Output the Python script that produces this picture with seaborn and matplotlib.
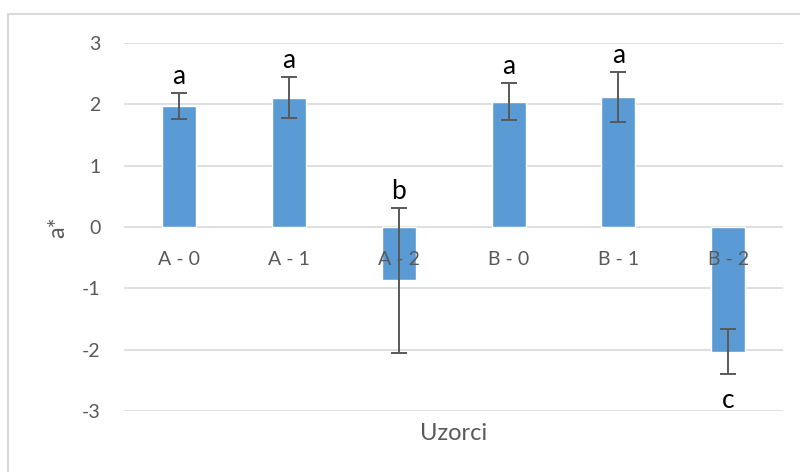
import matplotlib
matplotlib.use("Agg")
import matplotlib.pyplot as plt
import seaborn as sns
import pandas as pd
from matplotlib.patches import Rectangle

categories = ["A - 0", "A - 1", "A - 2", "B - 0", "B - 1", "B - 2"]
values = [1.97, 2.11, -0.87, 2.04, 2.12, -2.03]
errors = [0.21, 0.33, 1.18, 0.30, 0.40, 0.37]
letters = ["a", "a", "b", "a", "a", "c"]
letter_side = ["above", "above", "above", "above", "above", "below"]
yticks = [-3, -2, -1, 0, 1, 2, 3]

df = pd.DataFrame({"Uzorci": categories, "a*": values})

sns.set_theme(style="white")
plt.rcParams["font.family"] = ["Lato", "DejaVu Sans"]

fig = plt.figure(figsize=(8, 4.72), dpi=100)
ax = fig.add_axes([0.155, 0.1292, 0.824, 0.7797])

for t in yticks:
    ax.axhline(t, color="#d9d9d9", linewidth=1.2, zorder=0.5)

sns.barplot(data=df, x="Uzorci", y="a*", color="#5b9bd5", saturation=1,
            width=0.31, errorbar=None, ax=ax, zorder=1)
ax.errorbar(range(len(categories)), values, yerr=errors, fmt="none",
            ecolor="#595959", elinewidth=1.4, capsize=6, capthick=1.4, zorder=3)

for i, (v, e, l, side) in enumerate(zip(values, errors, letters, letter_side)):
    if side == "above":
        ax.annotate(l, (i, v + e), xytext=(0, 3), textcoords="offset points",
                    ha="center", va="bottom", fontsize=19, color="black", zorder=4)
    else:
        ax.annotate(l, (i, v - e), xytext=(0, -10), textcoords="offset points",
                    ha="center", va="top", fontsize=19, color="black", zorder=4)

ax.set_ylim(-3, 3)
ax.set_xlim(-0.5, len(categories) - 0.5)
ax.set_yticks(yticks)
ax.set_yticklabels([str(t) for t in yticks])
ax.grid(False)
ax.set_axisbelow(False)
for s in ["top", "right", "left", "bottom"]:
    ax.spines[s].set_visible(False)
ax.tick_params(axis="y", length=0, pad=17, labelsize=14, labelcolor="#595959")
ax.tick_params(axis="x", length=0, labelsize=14, labelcolor="#595959")
# category labels sit just below the zero line, as in the source chart
for lab in ax.get_xticklabels():
    lab.set_transform(ax.get_xaxis_transform())
ax.xaxis.set_tick_params(pad=-(0.5 * 0.7797 * 4.72 * 72) + 17)

ax.set_xlabel("Uzorci", fontsize=17, color="#595959")
ax.xaxis.label.set_va("center")
ax.xaxis.set_label_coords(0.5, -0.06)
ax.set_ylabel("a*", fontsize=17, color="#595959")
ax.yaxis.label.set_va("center")
ax.yaxis.set_label_coords(-0.1, 0.5)

fig.patches.append(Rectangle((8 / 800, -0.01), 1.0, 1 - 13.5 / 472 + 0.01,
                             transform=fig.transFigure, fill=False,
                             edgecolor="#d9d9d9", linewidth=1.5))

fig.savefig("out.png", dpi=100)
